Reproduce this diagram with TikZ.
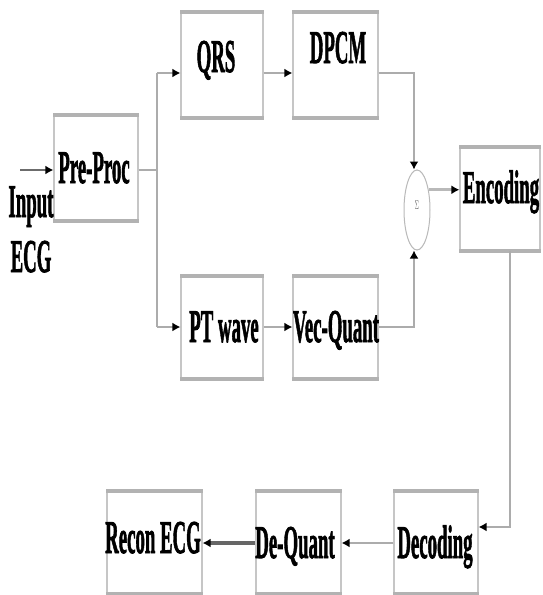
\documentclass[tikz,border=0pt]{standalone}
\usepackage{fontspec}
\setmainfont{Liberation Serif}
\newfontfamily\lblfont[FakeBold=2]{Liberation Serif Bold}
\usetikzlibrary{arrows.meta,shapes.geometric}
\newcommand{\lbl}[1]{\scalebox{0.4}[1]{\fontsize{47}{47}\lblfont #1}}
\begin{document}
\begin{tikzpicture}[x=1pt,y=-1pt,
  blk/.style={draw=gray!45, line width=1.2pt, fill=white, inner sep=0pt},
  bar/.style={draw=gray!60, line width=4pt},
  ln/.style={draw=gray!65, line width=1.8pt},
  arr/.style={ln, -{Latex[length=8pt,width=9pt,color=black]}},
  txt/.style={anchor=base, inner sep=0pt}]
\useasboundingbox (0,0) rectangle (542,595);
% boxes
\node[blk, minimum width=84pt, minimum height=104pt] (pre) at (96,168) {};
\node[blk, minimum width=82pt, minimum height=104pt] (qrs) at (222,65) {};
\node[blk, minimum width=85pt, minimum height=104pt] (dpcm) at (335.5,65) {};
\node[blk, minimum width=82pt, minimum height=101pt] (pt) at (222,327.5) {};
\node[blk, minimum width=85pt, minimum height=101pt] (vq) at (335.5,327.5) {};
\node[blk, minimum width=80pt, minimum height=102pt] (enc) at (500,199) {};
\node[blk, minimum width=95pt, minimum height=101pt] (rec) at (154.5,542.5) {};
\node[blk, minimum width=85pt, minimum height=101pt] (deq) at (298.5,542.5) {};
\node[blk, minimum width=84pt, minimum height=101pt] (dec) at (436,542.5) {};
\foreach \n in {pre,qrs,dpcm,pt,vq,enc,rec,deq,dec}{
  \draw[bar] (\n.north west) -- (\n.north east);
  \draw[bar] (\n.south west) -- (\n.south east);
}
% summing node
\node[draw=gray!55, line width=1pt, ellipse, fill=white, minimum width=26pt, minimum height=80pt, inner sep=0pt] (sig) at (417,210) {};
\node[inner sep=0pt, text=gray!70!black] (sigT) at (417,205) {\scalebox{0.6}[1.4]{\fontsize{9}{9}\selectfont$\Sigma$}};
% connectors
\coordinate (inp) at (20,170);
\draw[arr, draw=gray!85!black, line width=2.5pt] (inp) -- (inp -| pre.west);
\coordinate (sp) at (157,170);
\draw[ln] (sp -| pre.east) -- (sp);
\coordinate (spT) at (157,73);
\coordinate (spB) at (157,327);
\draw[ln] (spT) -- (spB);
\draw[arr] (spT) -- (spT -| qrs.west);
\draw[arr] (spB) -- (spB -| pt.west);
\draw[arr] (spT -| qrs.east) -- (spT -| dpcm.west);
\draw[arr] (spB -| pt.east) -- (spB -| vq.west);
\coordinate (cT) at (414,73);
\coordinate (cB) at (414,327);
\draw[arr] (cT -| dpcm.east) -- (cT) -- (cT |- sig.north);
\draw[arr, line width=2.3pt] (cB -| vq.east) -- (cB) -- (cB |- sig.south);
\draw[arr, line width=3pt, draw=gray!55] (sig.60) -- (sig.60 -| enc.west);
\coordinate (ed) at (510,527);
\draw[arr] (enc.south -| ed) -- (ed) -- (ed -| dec.east);
\coordinate (bm) at (0,543);
\draw[arr, line width=2.5pt] (bm -| dec.west) -- (bm -| deq.east);
\draw[arr, line width=3.5pt, draw=gray!80!black] (bm -| deq.west) -- (bm -| rec.east);
% texts
\node[txt] (preT) at (94,183) {\lbl{Pre-Proc}};
\node[txt] (qrsT) at (216,72) {\lbl{QRS}};
\node[txt] (dpcmT) at (338,63) {\lbl{DPCM}};
\node[txt] (encT) at (501,203) {\lbl{Encoding}};
\node[txt] (inT) at (31,217) {\lbl{Input}};
\node[txt] (ecgT) at (31,272) {\lbl{ECG}};
\node[txt] (ptT) at (224,342) {\lbl{PT wave}};
\node[txt] (vqT) at (336,342) {\lbl{Vec-Quant}};
\node[txt] (recT) at (153,553) {\lbl{Recon ECG}};
\node[txt] (deqT) at (295,558) {\lbl{De-Quant}};
\node[txt] (decT) at (435,558) {\lbl{Decoding}};
\end{tikzpicture}
\end{document}
